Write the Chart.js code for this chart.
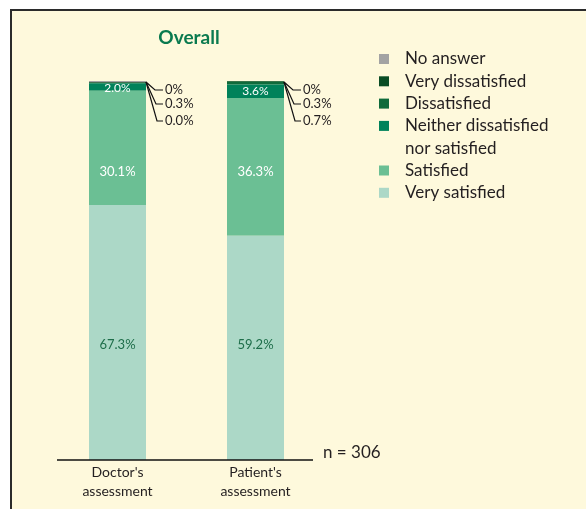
<!DOCTYPE html>
<html>
<head>
<meta charset="utf-8">
<script src="https://cdn.jsdelivr.net/npm/chart.js@4.4.1/dist/chart.umd.min.js"></script>
<style>
  html, body { margin: 0; padding: 0; background: #fff; }
  #wrap { position: relative; width: 586px; height: 509px; }
</style>
</head>
<body>
<div id="wrap"><canvas id="chart" width="586" height="509"></canvas></div>
<script>
// data
const categories = [["Doctor's", "assessment"], ["Patient's", "assessment"]];
const seriesNames = ["Very satisfied", "Satisfied", "Neither dissatisfied\nnor satisfied", "Dissatisfied", "Very dissatisfied", "No answer"];
const seriesColors = ["#acd8c7", "#6bbf94", "#00825a", "#0f6b3b", "#0a4d25", "#a3a3a3"];
const verySatisfied = [67.3, 59.2];
const satisfied = [30.1, 36.3];
const neither = [2.0, 3.6];
const dissatisfied = [0.0, 0.7];
const veryDissatisfied = [0.3, 0.3];
const noAnswer = [0.3, 0.0];
// callout text (top to bottom) for the thin segments
const calloutLabels = [["0%", "0.3%", "0.0%"], ["0%", "0.3%", "0.7%"]];
const sampleNote = "n = 306";
const title = "Overall";

const FONT = "Lato, 'Open Sans', sans-serif";
const series = [verySatisfied, satisfied, neither, dissatisfied, veryDissatisfied, noAnswer];

const decor = {
  id: "decor",
  beforeDraw(chart) {
    const ctx = chart.ctx;
    ctx.save();
    ctx.fillStyle = "#fff";
    ctx.fillRect(0, 0, 586, 509);
    ctx.fillStyle = "#fef9dc";
    ctx.fillRect(10, 9, 576, 500);
    ctx.strokeStyle = "#2b2b2b";
    ctx.lineWidth = 2;
    ctx.beginPath();
    ctx.moveTo(11, 509);
    ctx.lineTo(11, 10);
    ctx.lineTo(586, 10);
    ctx.stroke();
    ctx.restore();
  },
  afterDatasetsDraw(chart) {
    const ctx = chart.ctx;
    const xs = chart.scales.x;
    const area = chart.chartArea;
    ctx.save();

    // title
    ctx.fillStyle = "#0a7a4f";
    ctx.font = "bold 19px " + FONT;
    ctx.textAlign = "center";
    ctx.textBaseline = "middle";
    ctx.fillText(title, 189, 38);

    // values inside the big segments (same height in both bars)
    const labelY = [area.top + 264, area.top + 91];
    [0, 1, 2].forEach(d => {
      const meta = chart.getDatasetMeta(d);
      meta.data.forEach((bar, i) => {
        let y;
        if (d === 2) {
          y = Math.max((bar.y + bar.base) / 2, area.top + 7);
          ctx.font = "12px " + FONT;
        } else {
          y = labelY[d];
          ctx.font = "13px " + FONT;
        }
        ctx.fillStyle = d === 0 ? "#1e6e4a" : "#fff";
        ctx.fillText(series[d][i].toFixed(1) + "%", bar.x, y);
      });
    });

    // callouts
    const offsets = [9, 23, 40];
    ctx.strokeStyle = "#111";
    ctx.lineWidth = 1.2;
    ctx.textAlign = "left";
    ctx.fillStyle = "#231f20";
    ctx.font = "13px " + FONT;
    categories.forEach((c, i) => {
      const bar = chart.getDatasetMeta(0).data[i];
      const right = bar.x + bar.width / 2;
      const top = area.top + 1;
      calloutLabels[i].forEach((t, k) => {
        const ty = area.top + offsets[k];
        ctx.beginPath();
        ctx.moveTo(right, top);
        ctx.lineTo(right + 9 + k, ty);
        ctx.lineTo(right + 17, ty);
        ctx.stroke();
        ctx.fillText(t, right + 19, ty);
      });
    });

    // baseline and n
    ctx.strokeStyle = "#111";
    ctx.lineWidth = 1.5;
    ctx.beginPath();
    ctx.moveTo(57, area.bottom);
    ctx.lineTo(313, area.bottom);
    ctx.stroke();
    ctx.font = "17px " + FONT;
    ctx.fillText(sampleNote, 323, area.bottom - 7);

    // category labels
    ctx.font = "14px " + FONT;
    ctx.textAlign = "center";
    categories.forEach((lines, i) => {
      const x = xs.getPixelForValue(i);
      lines.forEach((l, j) => ctx.fillText(l, x, 472 + j * 19));
    });

    // legend, top entry first
    ctx.font = "17px " + FONT;
    ctx.textAlign = "left";
    let y = 59;
    for (let d = seriesNames.length - 1; d >= 0; d--) {
      ctx.fillStyle = seriesColors[d];
      ctx.fillRect(379, y - 5, 10, 10);
      ctx.fillStyle = "#231f20";
      seriesNames[d].split("\n").forEach(l => {
        ctx.fillText(l, 405, y);
        y += 22.3;
      });
    }
    ctx.restore();
  }
};

new Chart(document.getElementById("chart"), {
  type: "bar",
  data: {
    labels: categories,
    datasets: seriesNames.map((name, d) => ({
      label: name,
      data: series[d],
      backgroundColor: seriesColors[d],
      borderWidth: 0,
      barPercentage: 1,
      categoryPercentage: 0.413
    }))
  },
  options: {
    responsive: false,
    animation: false,
    layout: { padding: { left: 48.5, right: 261.5, top: 81, bottom: 49 } },
    plugins: { legend: { display: false }, tooltip: { enabled: false } },
    scales: {
      x: { stacked: true, display: false },
      y: { stacked: true, display: false, min: 0, max: 100 }
    }
  },
  plugins: [decor]
});
</script>
</body>
</html>
